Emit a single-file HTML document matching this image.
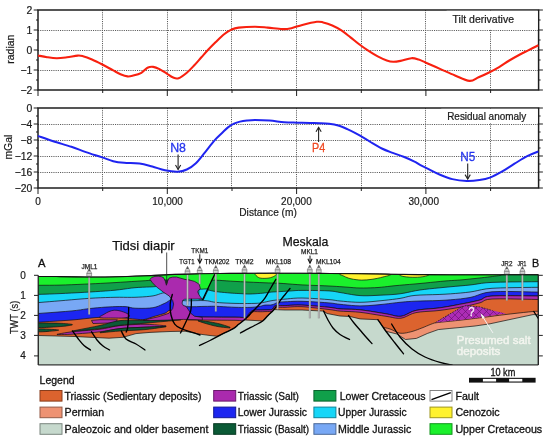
<!DOCTYPE html>
<html><head><meta charset="utf-8"><title>Tilt derivative and residual anomaly profile with seismic cross-section</title>
<style>
html,body{margin:0;padding:0;background:#fff;}
body{width:550px;height:440px;overflow:hidden;}
svg{display:block;font-family:"Liberation Sans", Arial, sans-serif;}
text{font-family:"Liberation Sans", Arial, sans-serif;fill:#1a1a1a;}
.grid{stroke:#5a5a5a;stroke-width:1;stroke-dasharray:1.1 1.1;}
.frame{fill:none;stroke:#1e1e1e;stroke-width:1.5;}
.tk{stroke:#1e1e1e;stroke-width:1;}
.tl{font-size:10.4px;stroke:#1a1a1a;stroke-width:0.2px;}
.tl2{font-size:10px;stroke:#1a1a1a;stroke-width:0.2px;}
.al{font-size:10.4px;stroke:#1a1a1a;stroke-width:0.2px;}
.ln{stroke:#111;stroke-width:0.7;stroke-linejoin:round;}
.flt{fill:none;stroke:#000;stroke-width:1.35;stroke-linecap:round;}
</style></head>
<body>
<svg width="550" height="440" viewBox="0 0 550 440">
<defs>
<pattern id="hatch" patternUnits="userSpaceOnUse" width="7" height="7">
<rect width="7" height="7" fill="#ad2cb6"/>
<path d="M0,0 L7,7 M7,0 L0,7" stroke="#64106a" stroke-width="0.6"/>
</pattern>
</defs>
<rect width="550" height="440" fill="#fff"/>
<g id="charts">
<line x1="102.5" y1="10" x2="102.5" y2="90" class="grid"/>
<line x1="167.5" y1="10" x2="167.5" y2="90" class="grid"/>
<line x1="231.5" y1="10" x2="231.5" y2="90" class="grid"/>
<line x1="296.5" y1="10" x2="296.5" y2="90" class="grid"/>
<line x1="361.5" y1="10" x2="361.5" y2="90" class="grid"/>
<line x1="425.5" y1="10" x2="425.5" y2="90" class="grid"/>
<line x1="490.5" y1="10" x2="490.5" y2="90" class="grid"/>
<line x1="38.0" y1="30.5" x2="538.6" y2="30.5" class="grid"/>
<line x1="38.0" y1="50.5" x2="538.6" y2="50.5" class="grid"/>
<line x1="38.0" y1="70.5" x2="538.6" y2="70.5" class="grid"/>
<rect x="38.0" y="10" width="500.6" height="80" class="frame"/>
<line x1="33.7" y1="10" x2="38.0" y2="10" class="tk"/>
<line x1="538.6" y1="10" x2="542.9" y2="10" class="tk"/>
<line x1="33.7" y1="30" x2="38.0" y2="30" class="tk"/>
<line x1="538.6" y1="30" x2="542.9" y2="30" class="tk"/>
<line x1="33.7" y1="50" x2="38.0" y2="50" class="tk"/>
<line x1="538.6" y1="50" x2="542.9" y2="50" class="tk"/>
<line x1="33.7" y1="70" x2="38.0" y2="70" class="tk"/>
<line x1="538.6" y1="70" x2="542.9" y2="70" class="tk"/>
<line x1="33.7" y1="90" x2="38.0" y2="90" class="tk"/>
<line x1="538.6" y1="90" x2="542.9" y2="90" class="tk"/>
<line x1="36.0" y1="20" x2="38.0" y2="20" class="tk"/>
<line x1="538.6" y1="20" x2="540.6" y2="20" class="tk"/>
<line x1="36.0" y1="40" x2="38.0" y2="40" class="tk"/>
<line x1="538.6" y1="40" x2="540.6" y2="40" class="tk"/>
<line x1="36.0" y1="60" x2="38.0" y2="60" class="tk"/>
<line x1="538.6" y1="60" x2="540.6" y2="60" class="tk"/>
<line x1="36.0" y1="80" x2="38.0" y2="80" class="tk"/>
<line x1="538.6" y1="80" x2="540.6" y2="80" class="tk"/>
<line x1="38.0" y1="90" x2="38.0" y2="96" class="tk"/>
<line x1="102.7" y1="90" x2="102.7" y2="93" class="tk"/>
<line x1="167.3" y1="90" x2="167.3" y2="96" class="tk"/>
<line x1="232.0" y1="90" x2="232.0" y2="93" class="tk"/>
<line x1="296.6" y1="90" x2="296.6" y2="96" class="tk"/>
<line x1="361.3" y1="90" x2="361.3" y2="93" class="tk"/>
<line x1="425.9" y1="90" x2="425.9" y2="96" class="tk"/>
<line x1="490.6" y1="90" x2="490.6" y2="93" class="tk"/>
<text x="32.4" y="13.7" text-anchor="end" class="tl">2</text>
<text x="32.4" y="33.7" text-anchor="end" class="tl">1</text>
<text x="32.4" y="53.7" text-anchor="end" class="tl">0</text>
<text x="32.4" y="73.7" text-anchor="end" class="tl">−1</text>
<text x="32.4" y="93.7" text-anchor="end" class="tl">−2</text>
<text transform="translate(14.3,49.2) rotate(-90)" text-anchor="middle" class="al">radian</text>
<rect x="446.6" y="10.8" width="91.2" height="18.8" fill="#fff"/>
<text x="452.6" y="22.8" textLength="61.4" lengthAdjust="spacingAndGlyphs" style="font-size:10.6px;stroke:#1a1a1a;stroke-width:0.22px">Tilt derivative</text>
<line x1="102.5" y1="108" x2="102.5" y2="188" class="grid"/>
<line x1="167.5" y1="108" x2="167.5" y2="188" class="grid"/>
<line x1="231.5" y1="108" x2="231.5" y2="188" class="grid"/>
<line x1="296.5" y1="108" x2="296.5" y2="188" class="grid"/>
<line x1="361.5" y1="108" x2="361.5" y2="188" class="grid"/>
<line x1="425.5" y1="108" x2="425.5" y2="188" class="grid"/>
<line x1="490.5" y1="108" x2="490.5" y2="188" class="grid"/>
<line x1="38.0" y1="124.5" x2="538.6" y2="124.5" class="grid"/>
<line x1="38.0" y1="140.5" x2="538.6" y2="140.5" class="grid"/>
<line x1="38.0" y1="156.5" x2="538.6" y2="156.5" class="grid"/>
<line x1="38.0" y1="172.5" x2="538.6" y2="172.5" class="grid"/>
<rect x="38.0" y="108" width="500.6" height="80" class="frame"/>
<line x1="33.7" y1="108" x2="38.0" y2="108" class="tk"/>
<line x1="538.6" y1="108" x2="542.9" y2="108" class="tk"/>
<line x1="33.7" y1="124" x2="38.0" y2="124" class="tk"/>
<line x1="538.6" y1="124" x2="542.9" y2="124" class="tk"/>
<line x1="33.7" y1="140" x2="38.0" y2="140" class="tk"/>
<line x1="538.6" y1="140" x2="542.9" y2="140" class="tk"/>
<line x1="33.7" y1="156" x2="38.0" y2="156" class="tk"/>
<line x1="538.6" y1="156" x2="542.9" y2="156" class="tk"/>
<line x1="33.7" y1="172" x2="38.0" y2="172" class="tk"/>
<line x1="538.6" y1="172" x2="542.9" y2="172" class="tk"/>
<line x1="33.7" y1="188" x2="38.0" y2="188" class="tk"/>
<line x1="538.6" y1="188" x2="542.9" y2="188" class="tk"/>
<line x1="36.0" y1="116" x2="38.0" y2="116" class="tk"/>
<line x1="538.6" y1="116" x2="540.6" y2="116" class="tk"/>
<line x1="36.0" y1="132" x2="38.0" y2="132" class="tk"/>
<line x1="538.6" y1="132" x2="540.6" y2="132" class="tk"/>
<line x1="36.0" y1="148" x2="38.0" y2="148" class="tk"/>
<line x1="538.6" y1="148" x2="540.6" y2="148" class="tk"/>
<line x1="36.0" y1="164" x2="38.0" y2="164" class="tk"/>
<line x1="538.6" y1="164" x2="540.6" y2="164" class="tk"/>
<line x1="36.0" y1="180" x2="38.0" y2="180" class="tk"/>
<line x1="538.6" y1="180" x2="540.6" y2="180" class="tk"/>
<line x1="38.0" y1="188" x2="38.0" y2="194" class="tk"/>
<line x1="102.7" y1="188" x2="102.7" y2="191" class="tk"/>
<line x1="167.3" y1="188" x2="167.3" y2="194" class="tk"/>
<line x1="232.0" y1="188" x2="232.0" y2="191" class="tk"/>
<line x1="296.6" y1="188" x2="296.6" y2="194" class="tk"/>
<line x1="361.3" y1="188" x2="361.3" y2="191" class="tk"/>
<line x1="425.9" y1="188" x2="425.9" y2="194" class="tk"/>
<line x1="490.6" y1="188" x2="490.6" y2="191" class="tk"/>
<text x="32.4" y="111.7" text-anchor="end" class="tl">0</text>
<text x="32.4" y="127.7" text-anchor="end" class="tl">−4</text>
<text x="32.4" y="143.7" text-anchor="end" class="tl">−8</text>
<text x="32.4" y="159.7" text-anchor="end" class="tl">−12</text>
<text x="32.4" y="175.7" text-anchor="end" class="tl">−16</text>
<text x="32.4" y="191.7" text-anchor="end" class="tl">−20</text>
<text transform="translate(12.3,147.2) rotate(-90)" text-anchor="middle" class="al">mGal</text>
<rect x="441.2" y="108.8" width="96.6" height="14.2" fill="#fff"/>
<text x="447.2" y="119.5" textLength="79.0" lengthAdjust="spacingAndGlyphs" style="font-size:10.0px;stroke:#1a1a1a;stroke-width:0.22px">Residual anomaly</text>
<text x="35.3" y="205.0" textLength="5.6" lengthAdjust="spacingAndGlyphs" class="tl">0</text>
<text x="152.3" y="205.0" textLength="30.6" lengthAdjust="spacingAndGlyphs" class="tl">10,000</text>
<text x="281.1" y="205.0" textLength="30.6" lengthAdjust="spacingAndGlyphs" class="tl">20,000</text>
<text x="408.4" y="205.0" textLength="30.6" lengthAdjust="spacingAndGlyphs" class="tl">30,000</text>
<text x="239.3" y="215.9" textLength="57.5" lengthAdjust="spacingAndGlyphs" class="al">Distance (m)</text>
<path d="M38.00,55.50 C39.50,55.78 43.87,56.75 47.00,57.20 C50.13,57.65 53.47,58.18 56.80,58.20 C60.13,58.22 63.52,57.73 67.00,57.30 C70.48,56.87 75.03,55.78 77.70,55.60 C80.37,55.42 80.62,55.55 83.00,56.20 C85.38,56.85 88.78,58.12 92.00,59.50 C95.22,60.88 98.77,62.68 102.30,64.50 C105.83,66.32 110.17,68.78 113.20,70.40 C116.23,72.02 118.12,73.20 120.50,74.20 C122.88,75.20 125.38,76.17 127.50,76.40 C129.62,76.63 130.88,76.20 133.20,75.60 C135.52,75.00 139.02,74.10 141.40,72.80 C143.78,71.50 145.53,68.78 147.50,67.80 C149.47,66.82 151.20,66.68 153.20,66.90 C155.20,67.12 157.23,67.98 159.50,69.10 C161.77,70.22 164.52,72.18 166.80,73.60 C169.08,75.02 171.23,76.83 173.20,77.60 C175.17,78.37 176.33,79.02 178.60,78.20 C180.87,77.38 184.22,74.82 186.80,72.70 C189.38,70.58 191.67,68.07 194.10,65.50 C196.53,62.93 198.98,60.00 201.40,57.30 C203.82,54.60 206.25,51.80 208.60,49.30 C210.95,46.80 212.92,44.82 215.50,42.30 C218.08,39.78 221.45,36.32 224.10,34.20 C226.75,32.08 228.98,30.70 231.40,29.60 C233.82,28.50 234.67,28.08 238.60,27.60 C242.53,27.12 250.15,26.70 255.00,26.70 C259.85,26.70 263.15,27.20 267.70,27.60 C272.25,28.00 278.35,29.00 282.30,29.10 C286.25,29.20 288.07,28.90 291.40,28.20 C294.73,27.50 298.07,25.97 302.30,24.90 C306.53,23.83 313.32,22.22 316.80,21.80 C320.28,21.38 320.62,21.78 323.20,22.40 C325.78,23.02 329.27,24.17 332.30,25.50 C335.33,26.83 338.37,28.43 341.40,30.40 C344.43,32.37 347.48,34.95 350.50,37.30 C353.52,39.65 356.48,42.23 359.50,44.50 C362.52,46.77 365.57,48.92 368.60,50.90 C371.63,52.88 374.67,54.80 377.70,56.40 C380.73,58.00 384.22,59.60 386.80,60.50 C389.38,61.40 390.92,61.73 393.20,61.80 C395.48,61.87 397.47,61.50 400.50,60.90 C403.53,60.30 408.38,58.43 411.40,58.20 C414.42,57.97 416.18,58.75 418.60,59.50 C421.02,60.25 422.25,61.10 425.90,62.70 C429.55,64.30 435.65,66.97 440.50,69.10 C445.35,71.23 450.17,73.53 455.00,75.50 C459.83,77.47 465.57,80.60 469.50,80.90 C473.43,81.20 475.25,78.75 478.60,77.30 C481.95,75.85 486.18,73.90 489.60,72.20 C493.02,70.50 495.82,69.05 499.10,67.10 C502.38,65.15 505.90,62.57 509.30,60.50 C512.70,58.43 516.35,56.38 519.50,54.70 C522.65,53.02 525.05,51.97 528.20,50.40 C531.35,48.83 536.70,46.15 538.40,45.30" fill="none" stroke="#f8200f" stroke-width="2.1" stroke-linejoin="round"/>
<path d="M38.00,135.90 C40.53,136.78 47.63,139.38 53.20,141.20 C58.77,143.02 65.95,144.98 71.40,146.80 C76.85,148.62 80.75,150.33 85.90,152.10 C91.05,153.87 97.75,155.88 102.30,157.40 C106.85,158.92 109.57,160.30 113.20,161.20 C116.83,162.10 119.72,162.43 124.10,162.80 C128.48,163.17 134.80,162.78 139.50,163.40 C144.20,164.02 148.05,165.35 152.30,166.50 C156.55,167.65 160.77,169.43 165.00,170.30 C169.23,171.17 174.07,171.83 177.70,171.70 C181.33,171.57 183.77,170.92 186.80,169.50 C189.83,168.08 192.87,166.07 195.90,163.20 C198.93,160.33 201.97,156.03 205.00,152.30 C208.03,148.57 211.22,144.07 214.10,140.80 C216.98,137.53 219.98,134.93 222.30,132.70 C224.62,130.47 226.05,128.92 228.00,127.40 C229.95,125.88 232.00,124.57 234.00,123.60 C236.00,122.63 237.83,122.12 240.00,121.60 C242.17,121.08 244.50,120.77 247.00,120.50 C249.50,120.23 251.25,120.00 255.00,120.00 C258.75,120.00 264.65,120.13 269.50,120.50 C274.35,120.87 279.55,121.83 284.10,122.20 C288.65,122.57 292.48,122.57 296.80,122.70 C301.12,122.83 306.13,122.92 310.00,123.00 C313.87,123.08 316.82,123.07 320.00,123.20 C323.18,123.33 326.07,123.42 329.10,123.80 C332.13,124.18 335.17,124.62 338.20,125.50 C341.23,126.38 344.27,127.75 347.30,129.10 C350.33,130.45 353.37,131.98 356.40,133.60 C359.43,135.22 363.15,137.40 365.50,138.80 C367.85,140.20 367.78,140.38 370.50,142.00 C373.22,143.62 378.10,146.68 381.80,148.50 C385.50,150.32 389.07,151.53 392.70,152.90 C396.33,154.27 399.97,155.25 403.60,156.70 C407.23,158.15 411.77,160.23 414.50,161.60 C417.23,162.97 417.65,163.65 420.00,164.90 C422.35,166.15 425.35,167.50 428.60,169.10 C431.85,170.70 435.55,172.83 439.50,174.50 C443.45,176.17 447.75,178.03 452.30,179.10 C456.85,180.17 462.27,180.75 466.80,180.90 C471.33,181.05 475.65,180.55 479.50,180.00 C483.35,179.45 486.18,178.98 489.90,177.60 C493.62,176.22 497.70,174.02 501.80,171.70 C505.90,169.38 510.27,166.28 514.50,163.70 C518.73,161.12 523.22,158.23 527.20,156.20 C531.18,154.17 536.53,152.28 538.40,151.50" fill="none" stroke="#1f24f0" stroke-width="2" stroke-linejoin="round"/>
<line x1="178.1" y1="154.5" x2="178.1" y2="169.5" stroke="#222" stroke-width="1.1"/><polyline points="175.5,165.0 178.1,169.5 180.7,165.0" fill="none" stroke="#222" stroke-width="1.1"/>
<text x="170.2" y="152.4" textLength="15.8" lengthAdjust="spacingAndGlyphs" style="font-size:12.6px;fill:#2434ee;stroke:#2434ee;stroke-width:0.3px">N8</text>
<line x1="318.6" y1="142" x2="318.6" y2="127.3" stroke="#222" stroke-width="1.1"/><polyline points="316.0,131.8 318.6,127.3 321.20000000000005,131.8" fill="none" stroke="#222" stroke-width="1.1"/>
<text x="312" y="151.9" textLength="13.2" lengthAdjust="spacingAndGlyphs" style="font-size:12.6px;fill:#f04a24;stroke:#f04a24;stroke-width:0.3px">P4</text>
<line x1="467.7" y1="163.6" x2="467.7" y2="179.1" stroke="#222" stroke-width="1.1"/><polyline points="465.09999999999997,174.6 467.7,179.1 470.3,174.6" fill="none" stroke="#222" stroke-width="1.1"/>
<text x="460.3" y="161" textLength="15" lengthAdjust="spacingAndGlyphs" style="font-size:12.6px;fill:#2434ee;stroke:#2434ee;stroke-width:0.3px">N5</text>
</g>
<clipPath id="secclip"><rect x="38.2" y="262" width="500.1" height="103"/></clipPath>
<g id="section">
<g clip-path="url(#secclip)">
<polygon points="38.20,276.50 41.03,276.51 44.96,276.52 49.64,276.53 54.77,276.56 60.00,276.60 65.56,276.67 71.65,276.77 77.97,276.87 84.19,276.95 90.00,277.00 95.24,277.01 100.12,277.00 104.88,276.97 109.76,276.90 115.00,276.80 120.68,276.66 126.64,276.48 132.76,276.27 138.92,276.04 145.00,275.80 151.08,275.53 157.24,275.23 163.36,274.92 169.32,274.64 175.00,274.40 180.24,274.23 185.12,274.09 189.88,273.99 194.76,273.89 200.00,273.80 205.68,273.70 211.64,273.61 217.76,273.53 223.92,273.46 230.00,273.40 235.84,273.36 241.52,273.33 247.28,273.32 253.36,273.31 260.00,273.30 267.52,273.29 275.76,273.28 284.24,273.28 292.48,273.29 300.00,273.30 306.64,273.33 312.72,273.36 318.48,273.40 324.16,273.45 330.00,273.50 336.00,273.55 342.00,273.60 348.00,273.66 354.00,273.73 360.00,273.80 366.00,273.89 372.00,274.00 378.00,274.10 384.00,274.21 390.00,274.30 396.00,274.37 402.00,274.44 408.00,274.50 414.00,274.55 420.00,274.60 425.07,274.65 429.20,274.70 433.80,274.74 440.27,274.77 450.00,274.80 465.34,274.81 485.36,274.81 506.54,274.81 525.36,274.80 538.30,274.80 538.30,365.00 38.20,365.00" fill="#1bf02c" class="ln"/>
<polygon points="38.20,285.30 41.03,285.29 44.96,285.28 49.64,285.26 54.77,285.21 60.00,285.10 65.56,284.93 71.65,284.70 77.97,284.44 84.19,284.16 90.00,283.90 95.29,283.65 100.26,283.41 105.10,283.15 109.95,282.89 115.00,282.60 120.42,282.27 126.09,281.91 131.75,281.54 137.14,281.20 142.00,280.90 145.82,280.65 148.79,280.44 151.65,280.26 155.14,280.11 160.00,280.00 166.98,279.94 175.57,279.93 184.67,279.94 193.18,279.97 200.00,280.00 204.69,280.01 207.98,280.02 210.54,280.04 212.99,280.09 216.00,280.20 219.43,280.37 222.86,280.60 226.46,280.86 230.45,281.13 235.00,281.40 240.54,281.68 246.93,281.99 253.55,282.30 259.78,282.57 265.00,282.80 268.85,282.94 271.74,283.01 274.22,283.06 276.79,283.14 280.00,283.30 283.87,283.56 288.06,283.88 292.50,284.24 297.17,284.59 302.00,284.90 307.26,285.15 312.97,285.38 318.75,285.59 324.22,285.79 329.00,286.00 332.92,286.21 336.24,286.41 339.20,286.60 342.04,286.80 345.00,287.00 348.02,287.22 350.93,287.47 353.83,287.71 356.82,287.90 360.00,288.00 363.42,288.02 367.03,287.97 370.73,287.87 374.42,287.71 378.00,287.50 381.34,287.23 384.49,286.89 387.67,286.51 391.10,286.11 395.00,285.70 399.49,285.29 404.42,284.86 409.62,284.42 414.87,283.97 420.00,283.50 425.16,283.00 430.48,282.45 435.72,281.91 440.64,281.41 445.00,281.00 448.64,280.71 451.72,280.52 454.48,280.36 457.16,280.21 460.00,280.00 463.00,279.74 466.00,279.45 469.00,279.14 472.00,278.82 475.00,278.50 478.08,278.17 481.24,277.82 484.36,277.46 487.32,277.12 490.00,276.80 492.38,276.50 494.55,276.22 496.53,275.96 498.34,275.72 500.00,275.50 501.04,275.31 501.43,275.14 501.90,275.00 503.18,274.89 506.00,274.80 511.29,274.76 518.58,274.75 526.44,274.77 533.49,274.79 538.30,274.80 538.30,365.00 38.20,365.00" fill="#10a04a" class="ln"/>
<polygon points="38.20,294.40 41.03,294.30 44.96,294.18 49.64,294.02 54.77,293.82 60.00,293.60 65.56,293.33 71.65,293.03 77.97,292.69 84.19,292.35 90.00,292.00 95.40,291.66 100.60,291.33 105.60,290.98 110.40,290.61 115.00,290.20 119.35,289.72 123.46,289.17 127.38,288.62 131.21,288.11 135.00,287.70 138.82,287.42 142.63,287.22 146.33,287.08 149.82,286.95 153.00,286.80 155.42,286.57 157.13,286.29 158.83,286.04 161.22,285.92 165.00,286.00 170.96,286.39 178.64,287.02 186.84,287.76 194.36,288.47 200.00,289.00 203.33,289.32 205.14,289.52 206.10,289.65 206.83,289.79 208.00,290.00 209.50,290.28 210.91,290.61 212.37,290.95 214.02,291.28 216.00,291.60 218.48,291.91 221.36,292.21 224.40,292.51 227.36,292.77 230.00,293.00 232.26,293.17 234.29,293.31 236.19,293.41 238.06,293.51 240.00,293.60 241.96,293.71 243.87,293.83 245.81,293.94 247.83,294.00 250.00,294.00 252.45,293.92 255.14,293.78 257.88,293.59 260.46,293.39 262.70,293.20 264.46,293.01 265.88,292.80 267.14,292.58 268.45,292.38 270.00,292.20 271.83,292.05 273.81,291.93 275.87,291.82 277.96,291.71 280.00,291.60 281.97,291.48 283.90,291.36 285.86,291.24 287.87,291.12 290.00,291.00 292.03,290.86 293.94,290.71 296.02,290.56 298.61,290.45 302.00,290.40 306.70,290.41 312.49,290.47 318.63,290.57 324.38,290.71 329.00,290.90 332.08,291.13 334.12,291.39 335.72,291.70 337.48,292.07 340.00,292.50 343.42,293.08 347.35,293.80 351.57,294.54 355.86,295.18 360.00,295.60 364.00,295.76 368.00,295.74 372.00,295.60 376.00,295.40 380.00,295.20 384.00,295.02 388.00,294.83 392.00,294.58 396.00,294.25 400.00,293.80 403.92,293.18 407.76,292.40 411.64,291.56 415.68,290.73 420.00,290.00 424.68,289.38 429.64,288.82 434.76,288.30 439.92,287.80 445.00,287.30 450.05,286.82 455.14,286.37 460.22,285.92 465.19,285.47 470.00,285.00 474.20,284.47 477.85,283.89 481.59,283.32 486.09,282.80 492.00,282.40 500.45,282.13 510.99,281.95 521.95,281.84 531.61,281.76 538.30,281.70 538.30,365.00 38.20,365.00" fill="#16d6f8" class="ln"/>
<polygon points="38.20,302.60 41.03,302.37 44.96,302.04 49.64,301.66 54.77,301.23 60.00,300.80 65.56,300.32 71.65,299.78 77.97,299.23 84.19,298.72 90.00,298.30 95.40,297.99 100.60,297.74 105.60,297.56 110.40,297.41 115.00,297.30 119.35,297.26 123.46,297.30 127.38,297.35 131.21,297.37 135.00,297.30 138.82,297.14 142.63,296.93 146.33,296.66 149.82,296.32 153.00,295.90 155.82,295.27 158.33,294.44 160.63,293.60 162.82,292.95 165.00,292.70 167.18,292.92 169.29,293.49 171.31,294.28 173.22,295.16 175.00,296.00 176.34,296.89 177.25,297.92 178.19,298.96 179.62,299.86 182.00,300.50 185.77,300.77 190.62,300.78 195.90,300.65 200.91,300.54 205.00,300.60 207.84,300.86 209.88,301.24 211.60,301.66 213.48,302.06 216.00,302.40 219.27,302.67 222.98,302.91 226.94,303.11 231.01,303.28 235.00,303.40 239.13,303.48 243.52,303.51 247.84,303.51 251.78,303.47 255.00,303.40 257.28,303.31 258.85,303.20 260.03,303.04 261.16,302.85 262.60,302.60 264.37,302.26 266.25,301.84 268.18,301.39 270.12,300.96 272.00,300.60 273.91,300.33 275.87,300.10 277.78,299.92 279.53,299.75 281.00,299.60 281.91,299.48 282.34,299.39 282.70,299.32 283.45,299.23 285.00,299.10 287.41,298.88 290.38,298.57 293.86,298.27 297.75,298.06 302.00,298.00 307.02,298.15 312.85,298.46 318.87,298.84 324.46,299.25 329.00,299.60 332.08,299.89 334.12,300.18 335.72,300.46 337.48,300.73 340.00,301.00 343.42,301.31 347.35,301.66 351.57,301.99 355.86,302.22 360.00,302.30 364.00,302.19 368.00,301.94 372.00,301.60 376.00,301.20 380.00,300.80 384.08,300.39 388.24,299.93 392.36,299.45 396.32,298.93 400.00,298.40 403.08,297.81 405.64,297.16 408.16,296.50 411.12,295.89 415.00,295.40 420.12,295.06 426.16,294.84 432.64,294.67 439.08,294.48 445.00,294.20 450.37,293.85 455.50,293.46 460.46,293.04 465.27,292.55 470.00,292.00 474.20,291.31 477.85,290.50 481.59,289.66 486.09,288.89 492.00,288.30 500.45,287.91 510.99,287.66 521.95,287.50 531.61,287.39 538.30,287.30 538.30,365.00 38.20,365.00" fill="#78a8f5" class="ln"/>
<polygon points="38.20,313.50 43.05,313.14 50.04,312.64 58.00,312.05 65.71,311.45 72.00,310.90 76.60,310.39 80.29,309.89 83.49,309.39 86.59,308.93 90.00,308.50 93.78,308.11 97.67,307.74 101.57,307.41 105.38,307.12 109.00,306.90 112.49,306.73 115.90,306.60 119.18,306.52 122.23,306.52 125.00,306.60 127.26,306.83 129.05,307.20 130.71,307.62 132.58,307.98 135.00,308.20 138.18,308.30 141.91,308.34 145.85,308.29 149.66,308.09 153.00,307.70 155.85,307.04 158.42,306.15 160.78,305.13 162.95,304.11 165.00,303.20 166.82,302.24 168.39,301.16 169.85,300.19 171.34,299.56 173.00,299.50 174.68,300.28 176.28,301.74 178.04,303.49 180.20,305.11 183.00,306.20 186.81,306.66 191.46,306.76 196.42,306.65 201.11,306.48 205.00,306.40 207.78,306.38 209.81,306.33 211.55,306.28 213.46,306.25 216.00,306.30 219.35,306.44 223.22,306.66 227.30,306.91 231.33,307.14 235.00,307.30 238.35,307.39 241.58,307.45 244.62,307.48 247.45,307.46 250.00,307.40 252.23,307.29 254.18,307.14 255.90,306.94 257.49,306.73 259.00,306.50 260.38,306.23 261.57,305.92 262.67,305.60 263.78,305.32 265.00,305.10 266.35,305.00 267.78,305.00 269.22,305.02 270.65,304.98 272.00,304.80 273.25,304.43 274.42,303.90 275.58,303.33 276.75,302.80 278.00,302.40 279.18,302.16 280.25,302.03 281.43,301.95 282.94,301.88 285.00,301.80 287.60,301.66 290.60,301.49 294.00,301.34 297.80,301.26 302.00,301.30 307.02,301.49 312.85,301.80 318.87,302.17 324.46,302.56 329.00,302.90 332.08,303.19 334.12,303.46 335.72,303.74 337.48,304.01 340.00,304.30 343.42,304.65 347.35,305.06 351.57,305.46 355.86,305.76 360.00,305.90 364.00,305.84 368.00,305.64 372.00,305.33 376.00,304.97 380.00,304.60 384.08,304.18 388.24,303.69 392.36,303.18 396.32,302.70 400.00,302.30 403.08,302.00 405.64,301.77 408.16,301.58 411.12,301.39 415.00,301.20 420.12,301.02 426.16,300.87 432.64,300.72 439.08,300.51 445.00,300.20 450.37,299.82 455.50,299.39 460.46,298.88 465.27,298.26 470.00,297.50 474.20,296.46 477.85,295.15 481.59,293.79 486.09,292.60 492.00,291.80 500.45,291.48 510.99,291.50 521.95,291.71 531.61,291.96 538.30,292.10 538.30,365.00 38.20,365.00" fill="#1c26f0" class="ln"/>
<polygon points="38.20,322.20 42.89,321.91 49.56,321.50 57.28,321.02 65.07,320.51 72.00,320.00 78.10,319.44 84.00,318.81 89.65,318.19 95.00,317.66 100.00,317.30 104.59,317.15 108.82,317.15 112.74,317.25 116.45,317.42 120.00,317.60 123.42,317.84 126.65,318.17 129.67,318.52 132.46,318.85 135.00,319.10 137.18,319.30 139.03,319.49 140.69,319.62 142.30,319.64 144.00,319.50 145.75,319.17 147.46,318.69 149.18,318.09 151.01,317.45 153.00,316.80 155.30,316.12 157.87,315.38 160.49,314.62 162.94,313.88 165.00,313.20 166.41,312.46 167.30,311.64 168.10,310.91 169.19,310.47 171.00,310.50 173.78,311.23 177.25,312.54 181.03,314.08 184.74,315.51 188.00,316.50 190.35,316.96 192.06,317.11 193.78,317.09 196.21,317.01 200.00,317.00 205.88,317.07 213.40,317.12 221.48,317.16 229.04,317.19 235.00,317.20 239.15,317.28 242.22,317.44 244.50,317.53 246.33,317.43 248.00,317.00 249.27,316.06 249.93,314.69 250.35,313.18 250.92,311.79 252.00,310.80 253.73,310.29 255.86,310.08 258.20,310.04 260.54,310.05 262.70,310.00 264.75,309.93 266.82,309.92 268.80,309.90 270.57,309.79 272.00,309.50 272.89,308.94 273.32,308.17 273.60,307.32 274.05,306.55 275.00,306.00 276.44,305.72 278.16,305.62 280.16,305.62 282.44,305.64 285.00,305.60 287.79,305.46 290.82,305.28 294.14,305.11 297.85,305.03 302.00,305.10 307.02,305.38 312.85,305.81 318.87,306.33 324.46,306.86 329.00,307.30 332.08,307.67 334.12,308.02 335.72,308.34 337.48,308.63 340.00,308.90 343.33,309.08 347.06,309.16 351.14,309.25 355.47,309.43 360.00,309.80 364.99,310.43 370.50,311.25 376.10,312.16 381.41,313.05 386.00,313.80 389.70,314.53 392.79,315.31 395.53,315.98 398.18,316.36 401.00,316.30 403.86,315.60 406.57,314.39 409.35,312.93 412.42,311.50 416.00,310.40 420.22,309.70 424.95,309.20 429.97,308.80 435.06,308.38 440.00,307.80 444.93,307.04 449.98,306.16 454.98,305.24 459.71,304.34 464.00,303.50 467.78,302.76 471.17,302.07 474.27,301.40 477.18,300.72 480.00,300.00 482.11,299.17 483.44,298.24 484.92,297.34 487.47,296.55 492.00,296.00 499.81,295.74 510.27,295.71 521.47,295.81 531.45,295.94 538.30,296.00 538.30,365.00 38.20,365.00" fill="#dc632e" class="ln"/>
<polygon points="188.00,316.50 189.26,316.57 190.83,316.68 192.97,316.80 195.94,316.91 200.00,317.00 205.88,317.07 213.40,317.12 221.48,317.16 229.04,317.19 235.00,317.20 239.15,317.28 242.22,317.44 244.50,317.53 246.33,317.43 248.00,317.00 249.27,316.06 249.93,314.69 250.35,313.18 250.92,311.79 252.00,310.80 253.73,310.29 255.86,310.08 258.20,310.04 260.54,310.05 262.70,310.00 264.75,309.93 266.82,309.92 268.80,309.90 270.57,309.79 272.00,309.50 272.89,308.94 273.32,308.17 273.60,307.32 274.05,306.55 275.00,306.00 276.44,305.72 278.16,305.62 280.16,305.62 282.44,305.64 285.00,305.60 287.79,305.46 290.82,305.28 294.14,305.11 297.85,305.03 302.00,305.10 307.02,305.38 312.85,305.81 318.87,306.33 324.46,306.86 329.00,307.30 332.08,307.67 334.12,308.02 335.72,308.34 337.48,308.63 340.00,308.90 343.33,309.08 347.06,309.16 351.14,309.25 355.47,309.43 360.00,309.80 364.99,310.43 370.50,311.25 376.10,312.16 381.41,313.05 386.00,313.80 389.70,314.53 392.79,315.31 395.53,315.98 398.18,316.36 401.00,316.30 403.86,315.60 406.57,314.39 409.35,312.93 412.42,311.50 416.00,310.40 420.22,309.70 424.95,309.20 429.97,308.80 435.06,308.38 440.00,307.80 444.93,307.04 449.98,306.16 454.98,305.24 459.71,304.34 464.00,303.50 467.78,302.76 471.17,302.07 474.27,301.40 477.18,300.72 480.00,300.00 482.11,299.17 483.44,298.24 484.92,297.34 487.47,296.55 492.00,296.00 499.81,295.74 510.27,295.71 521.47,295.81 531.45,295.94 538.30,296.00 538.30,299.50 531.45,299.36 521.47,299.13 510.27,298.91 499.81,298.83 492.00,299.00 487.47,299.49 484.92,300.22 483.44,301.08 482.11,301.98 480.00,302.80 477.18,303.54 474.27,304.28 471.17,305.01 467.78,305.75 464.00,306.50 459.71,307.29 454.98,308.13 449.98,308.95 444.93,309.73 440.00,310.40 435.06,310.89 429.97,311.24 424.95,311.56 420.22,311.97 416.00,312.60 412.42,313.62 409.35,314.96 406.57,316.34 403.86,317.51 401.00,318.20 398.18,318.33 395.53,318.08 392.79,317.57 389.70,316.93 386.00,316.30 381.41,315.59 376.10,314.72 370.50,313.80 364.99,312.95 360.00,312.30 355.47,311.89 351.14,311.64 347.06,311.47 343.33,311.32 340.00,311.10 337.48,310.82 335.72,310.55 334.12,310.25 332.08,309.90 329.00,309.50 324.46,308.96 318.87,308.30 312.85,307.63 307.02,307.06 302.00,306.70 297.85,306.61 294.14,306.71 290.82,306.92 287.79,307.14 285.00,307.30 282.43,307.33 280.12,307.29 278.10,307.27 276.39,307.35 275.00,307.60 274.19,308.12 273.94,308.87 273.87,309.69 273.62,310.44 272.80,311.00 271.33,311.31 269.45,311.47 267.31,311.55 265.01,311.60 262.70,311.70 260.20,311.72 257.44,311.62 254.65,311.59 252.09,311.79 250.00,312.40 248.59,313.68 247.69,315.51 246.99,317.50 246.20,319.29 245.00,320.50 243.91,320.99 243.14,321.02 241.90,320.79 239.45,320.48 235.00,320.30 227.22,320.24 216.61,320.17 205.19,320.10 194.98,320.04 188.00,320.00" fill="#aa2aae" class="ln"/>
<polygon points="379.00,326.50 380.51,326.81 382.66,327.24 385.14,327.76 387.69,328.35 390.00,329.00 392.05,329.82 394.03,330.83 395.98,331.84 397.96,332.69 400.00,333.20 402.12,333.32 404.30,333.16 406.50,332.80 408.71,332.32 410.90,331.80 413.08,331.20 415.26,330.48 417.44,329.68 419.62,328.84 421.80,328.00 424.07,327.11 426.42,326.12 428.73,325.15 430.87,324.28 432.70,323.60 433.88,323.19 434.51,322.98 435.09,322.87 436.14,322.74 438.20,322.50 441.55,322.12 445.83,321.67 450.63,321.18 455.49,320.69 460.00,320.20 464.04,319.74 467.89,319.29 471.73,318.82 475.71,318.33 480.00,317.80 484.63,317.21 489.50,316.57 494.54,315.91 499.73,315.25 505.00,314.60 510.77,313.92 517.07,313.20 523.29,312.51 528.80,311.92 533.00,311.50 535.60,311.30 537.01,311.28 537.65,311.35 537.94,311.45 538.30,311.50 538.30,365.00 38.20,365.00" fill="#ee9272" class="ln"/>
<polygon points="38.20,335.50 72.00,336.40 109.00,338.20 123.00,337.30 136.00,333.60 150.00,332.40 170.00,331.50 185.00,331.20 199.50,334.10 210.00,335.50 217.00,336.20 222.00,334.20 233.30,328.60 238.70,324.30 244.20,319.90 253.00,320.40 262.70,321.00 268.00,315.50 273.60,310.10 274.50,309.60 285.00,310.00 302.00,310.00 323.60,311.10 327.00,313.50 340.00,316.00 350.00,316.50 360.00,318.90 377.90,319.70 381.00,324.00 386.00,331.30 397.00,334.00 405.50,339.50 416.40,338.40 427.30,333.50 438.20,329.60 449.10,328.50 460.00,327.50 475.00,326.00 490.00,323.80 510.00,319.50 533.00,314.60 538.30,314.60 538.30,365.00 38.20,365.00" fill="#c6d9cd" class="ln"/>
<path d="M99.60,317.60 C98.27,316.98 102.43,315.30 104.00,314.30 C105.57,313.30 107.30,312.28 109.00,311.60 C110.70,310.92 112.37,310.32 114.20,310.20 C116.03,310.08 117.88,310.37 120.00,310.90 C122.12,311.43 125.32,312.48 126.90,313.40 C128.48,314.32 129.98,315.65 129.50,316.40 C129.02,317.15 126.92,317.63 124.00,317.90 C121.08,318.17 116.07,318.05 112.00,318.00 C107.93,317.95 100.93,318.22 99.60,317.60 Z" fill="#aa2aae" class="ln"/>
<polygon points="91.50,320.40 100.00,319.70 117.50,319.80 114.50,322.90 93.00,323.50" fill="#aa2aae" class="ln"/>
<path d="M38.00,323.30 C40.00,322.58 46.00,323.08 50.00,323.10 C54.00,323.12 58.27,323.15 62.00,323.40 C65.73,323.65 72.07,324.13 72.40,324.60 C72.73,325.07 67.73,325.77 64.00,326.20 C60.27,326.63 54.33,327.00 50.00,327.20 C45.67,327.40 40.00,328.05 38.00,327.40 C36.00,326.75 36.00,324.02 38.00,323.30 Z" fill="#0b5a36" class="ln"/>
<path d="M38.00,329.10 C39.67,328.68 44.55,329.03 48.00,329.20 C51.45,329.37 58.70,329.73 58.70,330.10 C58.70,330.47 51.45,331.13 48.00,331.40 C44.55,331.67 39.67,332.08 38.00,331.70 C36.33,331.32 36.33,329.52 38.00,329.10 Z" fill="#0b5a36" class="ln"/>
<polygon points="57.00,334.30 58.83,333.96 61.30,333.48 64.34,332.93 67.93,332.35 72.00,331.80 76.90,331.30 82.65,330.82 88.75,330.32 94.70,329.79 100.00,329.20 104.43,328.51 108.34,327.72 112.02,326.92 115.81,326.19 120.00,325.60 124.74,325.15 129.83,324.78 135.05,324.51 140.18,324.34 145.00,324.30 149.79,324.44 154.70,324.77 159.30,325.17 163.21,325.55 166.00,325.80 166.00,326.60 163.21,326.67 159.30,326.76 154.70,326.87 149.79,327.02 145.00,327.20 140.18,327.40 135.05,327.62 129.83,327.87 124.74,328.19 120.00,328.60 115.81,329.14 112.02,329.79 108.34,330.49 104.43,331.18 100.00,331.80 94.70,332.36 88.75,332.91 82.65,333.42 76.90,333.86 72.00,334.20 67.93,334.41 64.34,334.52 61.30,334.56 58.83,334.58 57.00,334.60" fill="#aa2aae" class="ln"/>
<polygon points="72.40,331.00 76.28,330.24 81.82,329.17 88.18,327.92 94.52,326.65 100.00,325.50 104.41,324.41 108.31,323.28 112.00,322.20 115.80,321.28 120.00,320.60 124.50,320.25 129.11,320.17 133.97,320.23 139.22,320.31 145.00,320.30 152.07,320.17 160.34,320.02 168.66,319.85 175.93,319.70 181.00,319.60 181.00,319.90 175.93,320.37 168.66,321.04 160.34,321.81 152.07,322.56 145.00,323.20 139.22,323.68 133.97,324.07 129.11,324.43 124.50,324.82 120.00,325.30 115.80,325.89 112.00,326.56 108.31,327.26 104.41,327.95 100.00,328.60 94.52,329.24 88.18,329.89 81.82,330.51 76.28,331.03 72.40,331.40" fill="#0b5a36" class="ln"/>
<polygon points="100.00,332.40 102.64,331.84 106.32,331.04 110.68,330.13 115.36,329.27 120.00,328.60 124.75,328.16 129.84,327.84 135.06,327.60 140.19,327.40 145.00,327.20 149.76,326.99 154.62,326.80 159.18,326.63 163.04,326.50 165.80,326.40 165.80,326.80 163.04,327.20 159.18,327.79 154.62,328.45 149.76,329.08 145.00,329.60 140.19,329.96 135.06,330.24 129.84,330.48 124.75,330.72 120.00,331.00 115.36,331.36 110.68,331.78 106.32,332.19 102.64,332.55 100.00,332.80" fill="#0b5a36" class="ln"/>
<polygon points="198.00,320.60 199.33,320.71 201.18,320.86 203.38,321.05 205.71,321.29 208.00,321.60 210.30,321.98 212.75,322.42 215.25,322.92 217.70,323.45 220.00,324.00 222.29,324.64 224.62,325.38 226.82,326.11 228.67,326.75 230.00,327.20 230.00,328.00 228.37,327.84 226.06,327.62 223.38,327.34 220.59,327.00 218.00,326.60 215.54,326.10 213.01,325.50 210.51,324.85 208.14,324.20 206.00,323.60 204.02,323.01 202.13,322.41 200.43,321.83 199.02,321.35 198.00,321.00" fill="#0b5a36" class="ln"/>
<polygon points="185.00,274.20 215.20,274.10 208.60,288.80 199.00,289.30 195.00,286.00" fill="#1bf02c" stroke="none"/>
<polygon points="199.00,289.30 204.00,289.00 208.60,288.80 203.50,299.60 198.50,299.00" fill="#16d6f8" class="ln"/>
<polygon points="150.00,279.40 151.80,277.40 155.00,276.40 158.20,276.20 161.50,276.70 163.60,277.70 165.30,281.20 166.40,285.20 167.50,281.20 169.00,278.10 172.50,277.10 176.40,277.00 180.00,278.00 185.00,279.40 190.00,280.20 194.50,281.40 199.10,284.10 200.40,288.60 198.50,290.20 197.70,291.80 198.80,294.50 200.60,297.20 202.20,298.90 196.00,299.10 190.00,299.10 184.50,299.30 182.60,300.60 182.10,303.20 183.30,305.50 186.00,306.30 188.20,309.50 191.00,313.50 194.50,316.20 202.30,317.40 202.30,320.00 195.00,319.60 183.60,319.40 167.30,320.10 150.00,320.60 143.60,320.30 147.30,319.30 158.20,316.80 165.00,314.60 169.10,313.20 172.70,308.60 173.60,304.10 172.70,300.50 169.10,295.90 163.60,292.30 156.40,286.80 152.50,282.80" fill="#aa2aae" class="ln"/>
<path d="M255.50,273.60 C256.83,273.10 261.58,273.43 265.00,273.40 C268.42,273.37 274.42,272.97 276.00,273.40 C277.58,273.83 275.67,275.23 274.50,276.00 C273.33,276.77 271.25,277.63 269.00,278.00 C266.75,278.37 263.00,278.47 261.00,278.20 C259.00,277.93 257.92,277.17 257.00,276.40 C256.08,275.63 254.17,274.10 255.50,273.60 Z" fill="#fff22e" class="ln"/>
<path d="M341.00,273.80 C344.50,273.38 356.83,273.62 365.00,273.70 C373.17,273.78 387.00,273.75 390.00,274.30 C393.00,274.85 386.00,276.17 383.00,277.00 C380.00,277.83 375.57,278.78 372.00,279.30 C368.43,279.82 365.10,280.18 361.60,280.10 C358.10,280.02 353.93,279.45 351.00,278.80 C348.07,278.15 345.67,277.03 344.00,276.20 C342.33,275.37 337.50,274.22 341.00,273.80 Z" fill="#fff22e" class="ln"/>
<path d="M400.00,274.60 C401.83,274.27 410.25,274.58 415.00,274.60 C419.75,274.62 427.00,274.38 428.50,274.70 C430.00,275.02 426.25,276.07 424.00,276.50 C421.75,276.93 418.33,277.28 415.00,277.30 C411.67,277.32 406.50,277.05 404.00,276.60 C401.50,276.15 398.17,274.93 400.00,274.60 Z" fill="#fff22e" class="ln"/>
<polygon points="435.50,322.60 442.00,318.50 449.00,314.40 456.70,310.00 461.00,307.20 466.00,305.60 480.00,306.90 492.50,310.60 506.00,313.60 480.00,317.60 460.00,320.00 445.00,321.60" fill="url(#hatch)" stroke="none"/>
<polyline points="435.50,322.60 442.00,318.50 449.00,314.40 456.70,310.00 461.00,307.20 466.00,305.60 480.00,306.90 492.50,310.60" fill="none" stroke="#222" stroke-width="0.8" stroke-dasharray="1.6 1.2"/>
<path d="M72.40,330.90 C73.33,332.17 76.07,336.07 78.00,338.50 C79.93,340.93 81.92,343.58 84.00,345.50 C86.08,347.42 89.42,349.25 90.50,350.00" class="flt"/>
<path d="M91.50,331.80 C92.42,333.17 95.08,337.63 97.00,340.00 C98.92,342.37 100.90,344.33 103.00,346.00 C105.10,347.67 108.50,349.33 109.60,350.00" class="flt"/>
<path d="M121.30,331.00 C122.08,332.33 123.55,336.83 126.00,339.00 C128.45,341.17 132.83,342.17 136.00,344.00 C139.17,345.83 143.50,349.00 145.00,350.00" class="flt"/>
<path d="M128.70,307.50 C128.65,309.25 128.58,314.58 128.40,318.00 C128.22,321.42 127.97,325.67 127.60,328.00 C127.23,330.33 126.43,331.33 126.20,332.00" class="flt"/>
<path d="M172.30,294.50 C171.95,296.08 170.42,300.58 170.20,304.00 C169.98,307.42 170.25,311.65 171.00,315.00 C171.75,318.35 173.02,321.85 174.70,324.10 C176.38,326.35 178.55,327.23 181.10,328.50 C183.65,329.77 186.85,330.62 190.00,331.70 C193.15,332.78 198.33,334.45 200.00,335.00" class="flt"/>
<path d="M191.40,299.30 C191.28,301.23 191.60,307.15 190.70,310.90 C189.80,314.65 187.38,318.75 186.00,321.80 C184.62,324.85 183.32,327.33 182.40,329.20 C181.48,331.07 180.82,332.37 180.50,333.00" class="flt"/>
<path d="M214.80,274.20 C214.17,275.50 212.30,279.28 211.00,282.00 C209.70,284.72 208.38,287.57 207.00,290.50 C205.62,293.43 203.42,298.08 202.70,299.60" class="flt"/>
<path d="M275.90,279.30 C275.00,280.83 272.33,285.37 270.50,288.50 C268.67,291.63 266.65,295.55 264.90,298.10 C263.15,300.65 261.63,301.98 260.00,303.80 C258.37,305.62 256.83,307.22 255.10,309.00 C253.37,310.78 251.42,312.68 249.60,314.50 C247.78,316.32 246.02,318.27 244.20,319.90 C242.38,321.53 240.52,322.85 238.70,324.30 C236.88,325.75 236.08,326.95 233.30,328.60 C230.52,330.25 225.88,332.22 222.00,334.20 C218.12,336.18 213.75,338.62 210.00,340.50 C206.25,342.38 201.25,344.67 199.50,345.50" class="flt"/>
<path d="M290.00,288.50 C289.25,289.42 286.95,292.22 285.50,294.00 C284.05,295.78 282.63,297.43 281.30,299.20 C279.97,300.97 278.78,302.78 277.50,304.60 C276.22,306.42 275.18,308.28 273.60,310.10 C272.02,311.92 269.82,313.68 268.00,315.50 C266.18,317.32 264.95,319.33 262.70,321.00 C260.45,322.67 257.22,324.05 254.50,325.50 C251.78,326.95 248.73,328.45 246.40,329.70 C244.07,330.95 241.48,332.45 240.50,333.00" class="flt"/>
<path d="M323.60,311.10 C324.33,312.58 326.43,317.18 328.00,320.00 C329.57,322.82 331.00,325.58 333.00,328.00 C335.00,330.42 337.23,332.58 340.00,334.50 C342.77,336.42 348.00,338.67 349.60,339.50" class="flt"/>
<path d="M348.50,315.50 C349.42,316.75 352.08,320.58 354.00,323.00 C355.92,325.42 358.00,327.67 360.00,330.00 C362.00,332.33 364.00,334.73 366.00,337.00 C368.00,339.27 371.00,342.50 372.00,343.60" class="flt"/>
<path d="M377.90,319.70 C379.08,321.42 382.15,326.12 385.00,330.00 C387.85,333.88 391.92,339.03 395.00,343.00 C398.08,346.97 402.08,352.00 403.50,353.80" class="flt"/>
<path d="M391.60,324.00 C393.00,326.17 396.60,332.83 400.00,337.00 C403.40,341.17 407.83,345.67 412.00,349.00 C416.17,352.33 420.33,354.77 425.00,357.00 C429.67,359.23 435.50,361.07 440.00,362.40 C444.50,363.73 450.00,364.57 452.00,365.00" class="flt"/>
<path d="M533.80,311.50 C534.55,312.67 537.55,317.33 538.30,318.50" class="flt"/>
</g>
<line x1="89.2" y1="275.9" x2="89.2" y2="314.6" stroke="#8c8c8c" stroke-width="1.9"/>
<line x1="89.2" y1="275.9" x2="89.2" y2="314.20000000000005" stroke="#c9c9c9" stroke-width="0.8"/>
<polygon points="89.2,268.59999999999997 91.60000000000001,273.2 91.60000000000001,276.29999999999995 86.8,276.29999999999995 86.8,273.2" fill="#d4d4d4" stroke="#6a6a6a" stroke-width="0.6"/>
<line x1="86.8" y1="273.4" x2="91.60000000000001" y2="273.4" stroke="#6a6a6a" stroke-width="0.7"/>
<polygon points="89.2,268.59999999999997 90.5,271.2 87.9,271.2" fill="#555"/>
<line x1="187.5" y1="273.6" x2="187.5" y2="305.5" stroke="#8c8c8c" stroke-width="1.9"/>
<line x1="187.5" y1="273.6" x2="187.5" y2="305.1" stroke="#c9c9c9" stroke-width="0.8"/>
<polygon points="187.5,266.3 189.9,270.90000000000003 189.9,274.0 185.1,274.0 185.1,270.90000000000003" fill="#d4d4d4" stroke="#6a6a6a" stroke-width="0.6"/>
<line x1="185.1" y1="271.1" x2="189.9" y2="271.1" stroke="#6a6a6a" stroke-width="0.7"/>
<polygon points="187.5,266.3 188.8,268.90000000000003 186.2,268.90000000000003" fill="#555"/>
<line x1="199.7" y1="273.0" x2="199.7" y2="284.3" stroke="#8c8c8c" stroke-width="1.9"/>
<line x1="199.7" y1="273.0" x2="199.7" y2="283.90000000000003" stroke="#c9c9c9" stroke-width="0.8"/>
<polygon points="199.7,265.7 202.1,270.3 202.1,273.4 197.29999999999998,273.4 197.29999999999998,270.3" fill="#d4d4d4" stroke="#6a6a6a" stroke-width="0.6"/>
<line x1="197.29999999999998" y1="270.5" x2="202.1" y2="270.5" stroke="#6a6a6a" stroke-width="0.7"/>
<polygon points="199.7,265.7 201.0,268.3 198.39999999999998,268.3" fill="#555"/>
<line x1="215.8" y1="272.8" x2="215.8" y2="311.6" stroke="#8c8c8c" stroke-width="1.9"/>
<line x1="215.8" y1="272.8" x2="215.8" y2="311.20000000000005" stroke="#c9c9c9" stroke-width="0.8"/>
<polygon points="215.8,265.5 218.20000000000002,270.1 218.20000000000002,273.2 213.4,273.2 213.4,270.1" fill="#d4d4d4" stroke="#6a6a6a" stroke-width="0.6"/>
<line x1="213.4" y1="270.3" x2="218.20000000000002" y2="270.3" stroke="#6a6a6a" stroke-width="0.7"/>
<polygon points="215.8,265.5 217.10000000000002,268.1 214.5,268.1" fill="#555"/>
<line x1="244.5" y1="272.4" x2="244.5" y2="318.3" stroke="#8c8c8c" stroke-width="1.9"/>
<line x1="244.5" y1="272.4" x2="244.5" y2="317.90000000000003" stroke="#c9c9c9" stroke-width="0.8"/>
<polygon points="244.5,265.09999999999997 246.9,269.7 246.9,272.79999999999995 242.1,272.79999999999995 242.1,269.7" fill="#d4d4d4" stroke="#6a6a6a" stroke-width="0.6"/>
<line x1="242.1" y1="269.9" x2="246.9" y2="269.9" stroke="#6a6a6a" stroke-width="0.7"/>
<polygon points="244.5,265.09999999999997 245.8,267.7 243.2,267.7" fill="#555"/>
<line x1="277.6" y1="272.3" x2="277.6" y2="309.5" stroke="#8c8c8c" stroke-width="1.9"/>
<line x1="277.6" y1="272.3" x2="277.6" y2="309.1" stroke="#c9c9c9" stroke-width="0.8"/>
<polygon points="277.6,265.0 280.0,269.6 280.0,272.7 275.20000000000005,272.7 275.20000000000005,269.6" fill="#d4d4d4" stroke="#6a6a6a" stroke-width="0.6"/>
<line x1="275.20000000000005" y1="269.8" x2="280.0" y2="269.8" stroke="#6a6a6a" stroke-width="0.7"/>
<polygon points="277.6,265.0 278.90000000000003,267.6 276.3,267.6" fill="#555"/>
<line x1="309.8" y1="272.3" x2="309.8" y2="318.3" stroke="#8c8c8c" stroke-width="1.9"/>
<line x1="309.8" y1="272.3" x2="309.8" y2="317.90000000000003" stroke="#c9c9c9" stroke-width="0.8"/>
<polygon points="309.8,265.0 312.2,269.6 312.2,272.7 307.40000000000003,272.7 307.40000000000003,269.6" fill="#d4d4d4" stroke="#6a6a6a" stroke-width="0.6"/>
<line x1="307.40000000000003" y1="269.8" x2="312.2" y2="269.8" stroke="#6a6a6a" stroke-width="0.7"/>
<polygon points="309.8,265.0 311.1,267.6 308.5,267.6" fill="#555"/>
<line x1="318.8" y1="272.4" x2="318.8" y2="318.3" stroke="#8c8c8c" stroke-width="1.9"/>
<line x1="318.8" y1="272.4" x2="318.8" y2="317.90000000000003" stroke="#c9c9c9" stroke-width="0.8"/>
<polygon points="318.8,265.09999999999997 321.2,269.7 321.2,272.79999999999995 316.40000000000003,272.79999999999995 316.40000000000003,269.7" fill="#d4d4d4" stroke="#6a6a6a" stroke-width="0.6"/>
<line x1="316.40000000000003" y1="269.9" x2="321.2" y2="269.9" stroke="#6a6a6a" stroke-width="0.7"/>
<polygon points="318.8,265.09999999999997 320.1,267.7 317.5,267.7" fill="#555"/>
<line x1="506.8" y1="273.8" x2="506.8" y2="300.7" stroke="#8c8c8c" stroke-width="1.9"/>
<line x1="506.8" y1="273.8" x2="506.8" y2="300.3" stroke="#c9c9c9" stroke-width="0.8"/>
<polygon points="506.8,266.5 509.2,271.1 509.2,274.2 504.40000000000003,274.2 504.40000000000003,271.1" fill="#d4d4d4" stroke="#6a6a6a" stroke-width="0.6"/>
<line x1="504.40000000000003" y1="271.3" x2="509.2" y2="271.3" stroke="#6a6a6a" stroke-width="0.7"/>
<polygon points="506.8,266.5 508.1,269.1 505.5,269.1" fill="#555"/>
<line x1="522.4" y1="273.8" x2="522.4" y2="300.7" stroke="#8c8c8c" stroke-width="1.9"/>
<line x1="522.4" y1="273.8" x2="522.4" y2="300.3" stroke="#c9c9c9" stroke-width="0.8"/>
<polygon points="522.4,266.5 524.8,271.1 524.8,274.2 520.0,274.2 520.0,271.1" fill="#d4d4d4" stroke="#6a6a6a" stroke-width="0.6"/>
<line x1="520.0" y1="271.3" x2="524.8" y2="271.3" stroke="#6a6a6a" stroke-width="0.7"/>
<polygon points="522.4,266.5 523.6999999999999,269.1 521.1,269.1" fill="#555"/>
<line x1="38.2" y1="275.3" x2="38.2" y2="365.0" stroke="#222" stroke-width="1.2"/>
<line x1="538.3" y1="274.6" x2="538.3" y2="365.0" stroke="#222" stroke-width="1.2"/>
<line x1="38.2" y1="365.0" x2="538.3" y2="365.0" stroke="#333" stroke-width="1.2"/>
<path d="M38.20,276.50 C41.83,276.52 51.37,276.52 60.00,276.60 C68.63,276.68 80.83,276.97 90.00,277.00 C99.17,277.03 105.83,277.00 115.00,276.80 C124.17,276.60 135.00,276.20 145.00,275.80 C155.00,275.40 165.83,274.73 175.00,274.40 C184.17,274.07 190.83,273.97 200.00,273.80 C209.17,273.63 220.00,273.48 230.00,273.40 C240.00,273.32 248.33,273.32 260.00,273.30 C271.67,273.28 288.33,273.27 300.00,273.30 C311.67,273.33 320.00,273.42 330.00,273.50 C340.00,273.58 350.00,273.67 360.00,273.80 C370.00,273.93 380.00,274.17 390.00,274.30 C400.00,274.43 410.00,274.52 420.00,274.60 C430.00,274.68 430.28,274.77 450.00,274.80 C469.72,274.83 523.58,274.80 538.30,274.80" fill="none" stroke="#111" stroke-width="1.1"/>
<line x1="34.0" y1="275.3" x2="38.2" y2="275.3" stroke="#222" stroke-width="1"/>
<line x1="538.3" y1="275.3" x2="542.8" y2="275.3" stroke="#222" stroke-width="1"/>
<text x="25.9" y="278.8" text-anchor="end" class="tl2">0</text>
<line x1="34.0" y1="295.4" x2="38.2" y2="295.4" stroke="#222" stroke-width="1"/>
<line x1="538.3" y1="295.4" x2="542.8" y2="295.4" stroke="#222" stroke-width="1"/>
<text x="25.9" y="298.9" text-anchor="end" class="tl2">1</text>
<line x1="34.0" y1="315.4" x2="38.2" y2="315.4" stroke="#222" stroke-width="1"/>
<line x1="538.3" y1="315.4" x2="542.8" y2="315.4" stroke="#222" stroke-width="1"/>
<text x="25.9" y="318.9" text-anchor="end" class="tl2">2</text>
<line x1="34.0" y1="335.4" x2="38.2" y2="335.4" stroke="#222" stroke-width="1"/>
<line x1="538.3" y1="335.4" x2="542.8" y2="335.4" stroke="#222" stroke-width="1"/>
<text x="25.9" y="338.9" text-anchor="end" class="tl2">3</text>
<line x1="34.0" y1="355.9" x2="38.2" y2="355.9" stroke="#222" stroke-width="1"/>
<line x1="538.3" y1="355.9" x2="542.8" y2="355.9" stroke="#222" stroke-width="1"/>
<text x="25.9" y="359.4" text-anchor="end" class="tl2">4</text>
<text transform="translate(17.8,317.4) rotate(-90)" text-anchor="middle" textLength="33.4" lengthAdjust="spacingAndGlyphs" class="al">TWT (s)</text>
<text x="81.6" y="268.8" textLength="15.9" lengthAdjust="spacingAndGlyphs" style="font-size:7.0px;fill:#1a1a1a;stroke:#1a1a1a;stroke-width:0.25px">JML1</text>
<text x="179.3" y="264.4" textLength="15.3" lengthAdjust="spacingAndGlyphs" style="font-size:7.0px;fill:#1a1a1a;stroke:#1a1a1a;stroke-width:0.25px">TGT1</text>
<text x="191.3" y="253.2" textLength="17.0" lengthAdjust="spacingAndGlyphs" style="font-size:7.0px;fill:#1a1a1a;stroke:#1a1a1a;stroke-width:0.25px">TKM1</text>
<text x="204.4" y="264.4" textLength="25.1" lengthAdjust="spacingAndGlyphs" style="font-size:7.0px;fill:#1a1a1a;stroke:#1a1a1a;stroke-width:0.25px">TKM202</text>
<text x="235.3" y="263.8" textLength="18.2" lengthAdjust="spacingAndGlyphs" style="font-size:7.0px;fill:#1a1a1a;stroke:#1a1a1a;stroke-width:0.25px">TKM2</text>
<text x="265.8" y="263.8" textLength="25.3" lengthAdjust="spacingAndGlyphs" style="font-size:7.0px;fill:#1a1a1a;stroke:#1a1a1a;stroke-width:0.25px">MKL108</text>
<text x="301.0" y="254.2" textLength="16.9" lengthAdjust="spacingAndGlyphs" style="font-size:7.0px;fill:#1a1a1a;stroke:#1a1a1a;stroke-width:0.25px">MKL1</text>
<text x="315.9" y="264.2" textLength="24.8" lengthAdjust="spacingAndGlyphs" style="font-size:7.0px;fill:#1a1a1a;stroke:#1a1a1a;stroke-width:0.25px">MKL104</text>
<text x="501.2" y="266.3" textLength="11.2" lengthAdjust="spacingAndGlyphs" style="font-size:7.0px;fill:#1a1a1a;stroke:#1a1a1a;stroke-width:0.25px">JR2</text>
<text x="517.4" y="266.3" textLength="9.0" lengthAdjust="spacingAndGlyphs" style="font-size:7.0px;fill:#1a1a1a;stroke:#1a1a1a;stroke-width:0.25px">JR1</text>
<line x1="199.8" y1="254.3" x2="199.8" y2="262.3" stroke="#111" stroke-width="1"/><polyline points="197.70000000000002,258.7 199.8,263.3 201.9,258.7" fill="none" stroke="#111" stroke-width="1.1"/>
<line x1="310.0" y1="255.6" x2="310.0" y2="262.3" stroke="#111" stroke-width="1"/><polyline points="307.9,258.7 310.0,263.3 312.1,258.7" fill="none" stroke="#111" stroke-width="1.1"/>
<text x="112.2" y="249.5" textLength="62.5" lengthAdjust="spacingAndGlyphs" style="font-size:12.6px;fill:#111;stroke:#111;stroke-width:0.25px">Tidsi diapir</text>
<line x1="166.7" y1="252.5" x2="166.7" y2="282" stroke="#222" stroke-width="0.8"/>
<polygon points="165.1,280.2 166.6,285.6 168.2,280.2" fill="#222"/>
<text x="282.5" y="245.9" textLength="45.9" lengthAdjust="spacingAndGlyphs" style="font-size:12.6px;fill:#111;stroke:#111;stroke-width:0.25px">Meskala</text>
<text x="38.0" y="267.4" textLength="7.5" lengthAdjust="spacingAndGlyphs" style="font-size:10.6px;fill:#111;stroke:#111;stroke-width:0.3px">A</text>
<text x="532.0" y="267.4" textLength="7.2" lengthAdjust="spacingAndGlyphs" style="font-size:10.6px;fill:#111;stroke:#111;stroke-width:0.3px">B</text>
<text x="468.4" y="315.8" textLength="6" lengthAdjust="spacingAndGlyphs" style="font-size:12.8px;fill:#f4eef6;stroke:#f4eef6;stroke-width:0.4px">?</text>
<text x="456.8" y="344.1" textLength="73.8" lengthAdjust="spacingAndGlyphs" style="font-size:11.8px;fill:#f3f5ef;stroke:#f3f5ef;stroke-width:0.45px">Presumed salt</text>
<text x="456.8" y="355.2" textLength="43.5" lengthAdjust="spacingAndGlyphs" style="font-size:11.8px;fill:#f3f5ef;stroke:#f3f5ef;stroke-width:0.45px">deposits</text>
<line x1="493" y1="333" x2="481.6" y2="315" stroke="#f3f3f3" stroke-width="1"/>
<polygon points="480.6,313.3 485,317.2 482.3,318.7" fill="#f3f3f3"/>
<text x="490.4" y="375.5" textLength="24.9" lengthAdjust="spacingAndGlyphs" style="font-size:10.2px;fill:#111;stroke:#111;stroke-width:0.3px">10 km</text>
<rect x="469" y="377.8" width="66.6" height="4.8" fill="#111"/>
<rect x="482.9" y="378.9" width="13.2" height="2.6" fill="#fff"/>
<rect x="509.1" y="378.9" width="13.2" height="2.6" fill="#fff"/>
</g>
<g id="legend">
<text x="39.6" y="383.5" textLength="35.0" lengthAdjust="spacingAndGlyphs" style="font-size:10.6px;fill:#111;stroke:#111;stroke-width:0.3px">Legend</text>
<rect x="40.0" y="390.5" width="22" height="10.6" fill="#dc632e" stroke="#883d1c" stroke-width="1"/>
<text x="64.6" y="399.7" textLength="136.8" lengthAdjust="spacingAndGlyphs" style="font-size:10.8px;fill:#111;stroke:#111;stroke-width:0.3px">Triassic (Sedientary deposits)</text>
<rect x="40.0" y="407.1" width="22" height="10.6" fill="#ee9272" stroke="#935a46" stroke-width="1"/>
<text x="64.6" y="416.1" textLength="39.6" lengthAdjust="spacingAndGlyphs" style="font-size:10.8px;fill:#111;stroke:#111;stroke-width:0.3px">Permian</text>
<rect x="40.0" y="423.7" width="22" height="10.6" fill="#c6d9cd" stroke="#7a867f" stroke-width="1"/>
<text x="64.6" y="432.7" textLength="143.9" lengthAdjust="spacingAndGlyphs" style="font-size:10.8px;fill:#111;stroke:#111;stroke-width:0.3px">Paleozoic and older basement</text>
<rect x="213.7" y="390.5" width="22" height="10.6" fill="#aa2aae" stroke="#691a6b" stroke-width="1"/>
<text x="237.7" y="399.7" textLength="61.2" lengthAdjust="spacingAndGlyphs" style="font-size:10.8px;fill:#111;stroke:#111;stroke-width:0.3px">Triassic (Salt)</text>
<rect x="213.7" y="407.1" width="22" height="10.6" fill="#1c26f0" stroke="#111794" stroke-width="1"/>
<text x="237.7" y="416.1" textLength="69.2" lengthAdjust="spacingAndGlyphs" style="font-size:10.8px;fill:#111;stroke:#111;stroke-width:0.3px">Lower Jurassic</text>
<rect x="213.7" y="423.7" width="22" height="10.6" fill="#0b5a36" stroke="#063721" stroke-width="1"/>
<text x="237.7" y="432.7" textLength="71.4" lengthAdjust="spacingAndGlyphs" style="font-size:10.8px;fill:#111;stroke:#111;stroke-width:0.3px">Triassic (Basalt)</text>
<rect x="313.9" y="390.5" width="22" height="10.6" fill="#10a04a" stroke="#09632d" stroke-width="1"/>
<text x="339.7" y="399.7" textLength="85.8" lengthAdjust="spacingAndGlyphs" style="font-size:10.8px;fill:#111;stroke:#111;stroke-width:0.3px">Lower Cretaceous</text>
<rect x="313.9" y="407.1" width="22" height="10.6" fill="#16d6f8" stroke="#0d8499" stroke-width="1"/>
<text x="338.1" y="416.1" textLength="68.5" lengthAdjust="spacingAndGlyphs" style="font-size:10.8px;fill:#111;stroke:#111;stroke-width:0.3px">Upper Jurassic</text>
<rect x="313.9" y="423.7" width="22" height="10.6" fill="#78a8f5" stroke="#4a6897" stroke-width="1"/>
<text x="338.1" y="432.7" textLength="73.1" lengthAdjust="spacingAndGlyphs" style="font-size:10.8px;fill:#111;stroke:#111;stroke-width:0.3px">Middle Jurassic</text>
<rect x="430.0" y="390.5" width="22" height="10.6" fill="#fff" stroke="#777" stroke-width="0.9"/>
<line x1="431.5" y1="399.6" x2="450.8" y2="392.6" stroke="#000" stroke-width="1.5"/>
<text x="455.4" y="399.7" textLength="23.7" lengthAdjust="spacingAndGlyphs" style="font-size:10.8px;fill:#111;stroke:#111;stroke-width:0.3px">Fault</text>
<rect x="430.0" y="407.1" width="22" height="10.6" fill="#fff22e" stroke="#9e961c" stroke-width="1"/>
<text x="455.4" y="416.1" textLength="44.3" lengthAdjust="spacingAndGlyphs" style="font-size:10.8px;fill:#111;stroke:#111;stroke-width:0.3px">Cenozoic</text>
<rect x="430.0" y="423.7" width="22" height="10.6" fill="#1bf02c" stroke="#10941b" stroke-width="1"/>
<text x="455.4" y="432.7" textLength="86.8" lengthAdjust="spacingAndGlyphs" style="font-size:10.8px;fill:#111;stroke:#111;stroke-width:0.3px">Upper Cretaceous</text>
</g>
</svg>
</body></html>
